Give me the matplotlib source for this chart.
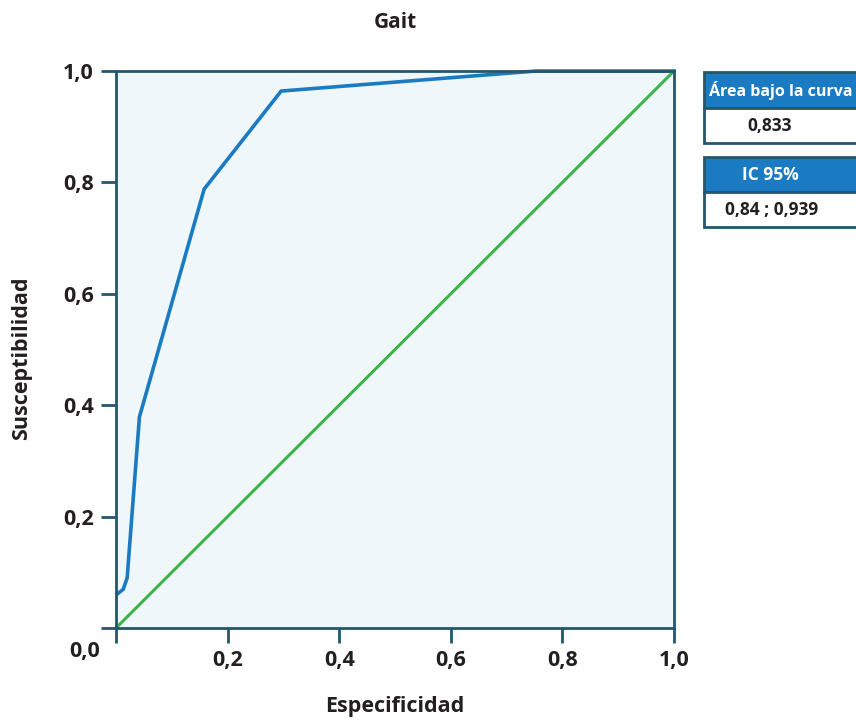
import matplotlib
matplotlib.use("Agg")
import matplotlib.pyplot as plt
from matplotlib.patches import Rectangle

# Data
roc_x = [0.0023, 0.013, 0.020, 0.042, 0.158, 0.296, 0.753, 1.0]
roc_y = [0.061, 0.0695, 0.090, 0.379, 0.788, 0.964, 1.0, 1.0]
ref_x = [0.0, 1.0]
ref_y = [0.0, 1.0]
ticks = [0.0, 0.2, 0.4, 0.6, 0.8, 1.0]
tick_labels = ["0,0", "0,2", "0,4", "0,6", "0,8", "1,0"]
auc_header = "Área bajo la curva"
auc_value = "0,833"
ci_header = "IC 95%"
ci_value = "0,84 ; 0,939"

plt.rcParams['font.family'] = ['Open Sans', 'DejaVu Sans']
W, H = 856, 722
fig = plt.figure(figsize=(W/100, H/100), dpi=100)
ax = fig.add_axes([116/W, (H-628)/H, (674-116)/W, (628-71)/H])
ax.set_facecolor('#eff7fb')

spine_c = '#25566b'
text_c = '#231f20'
blue = '#1b7bc2'
green = '#3cb44b'

ax.plot(ref_x, ref_y, color=green, lw=2.2, solid_capstyle='butt', clip_on=False)
ax.plot(roc_x, roc_y, color=blue, lw=2.6, solid_joinstyle='miter', clip_on=False)

ax.set_xlim(0, 1)
ax.set_ylim(0, 1)
ax.set_xticks(ticks)
ax.set_yticks(ticks)
# corner label "0,0" is drawn once, below-left of the origin
ax.set_xticklabels([""] + tick_labels[1:])
ax.set_yticklabels([""] + tick_labels[1:])
for s in ax.spines.values():
    s.set_color(spine_c)
    s.set_linewidth(2)
ax.tick_params(axis='both', direction='out', length=11, width=2, color=spine_c,
               labelsize=15.5, labelcolor=text_c, pad=5)
for lab in ax.get_xticklabels() + ax.get_yticklabels():
    lab.set_fontweight('bold')
ax.text(-0.028, -0.042, tick_labels[0], transform=ax.transAxes, ha='right', va='center',
        fontsize=15.5, fontweight='bold', color=text_c)

ax.set_title("Gait", fontsize=15, fontweight='bold', color=text_c, pad=31)
ax.set_xlabel("Especificidad", fontsize=15.5, fontweight='bold', color=text_c, labelpad=18)
ax.set_ylabel("Susceptibilidad", fontsize=15.5, fontweight='bold', color=text_c)
ax.yaxis.set_label_coords(-0.15, 0.485)

def px_rect(x0, y0, x1, y1, fc):
    r = Rectangle((x0/W, 1-y1/H), (x1-x0)/W, (y1-y0)/H, transform=fig.transFigure,
                  facecolor=fc, edgecolor=spine_c, linewidth=2, clip_on=False)
    fig.add_artist(r)

def px_text(x, y, s, color, ha='center', size=12.5):
    fig.text(x/W, 1-y/H, s, ha=ha, va='center', fontsize=size, fontweight='bold', color=color)

px_rect(704, 72, 880, 108, blue)
px_rect(704, 108, 880, 143, 'white')
px_text(709, 90, auc_header, 'white', ha='left', size=11.5)
px_text(770, 126, auc_value, text_c)

px_rect(704, 157, 880, 192, blue)
px_rect(704, 192, 880, 227, 'white')
px_text(770, 175, ci_header, 'white')
px_text(772, 210, ci_value, text_c)

fig.savefig("out.png", dpi=100)
